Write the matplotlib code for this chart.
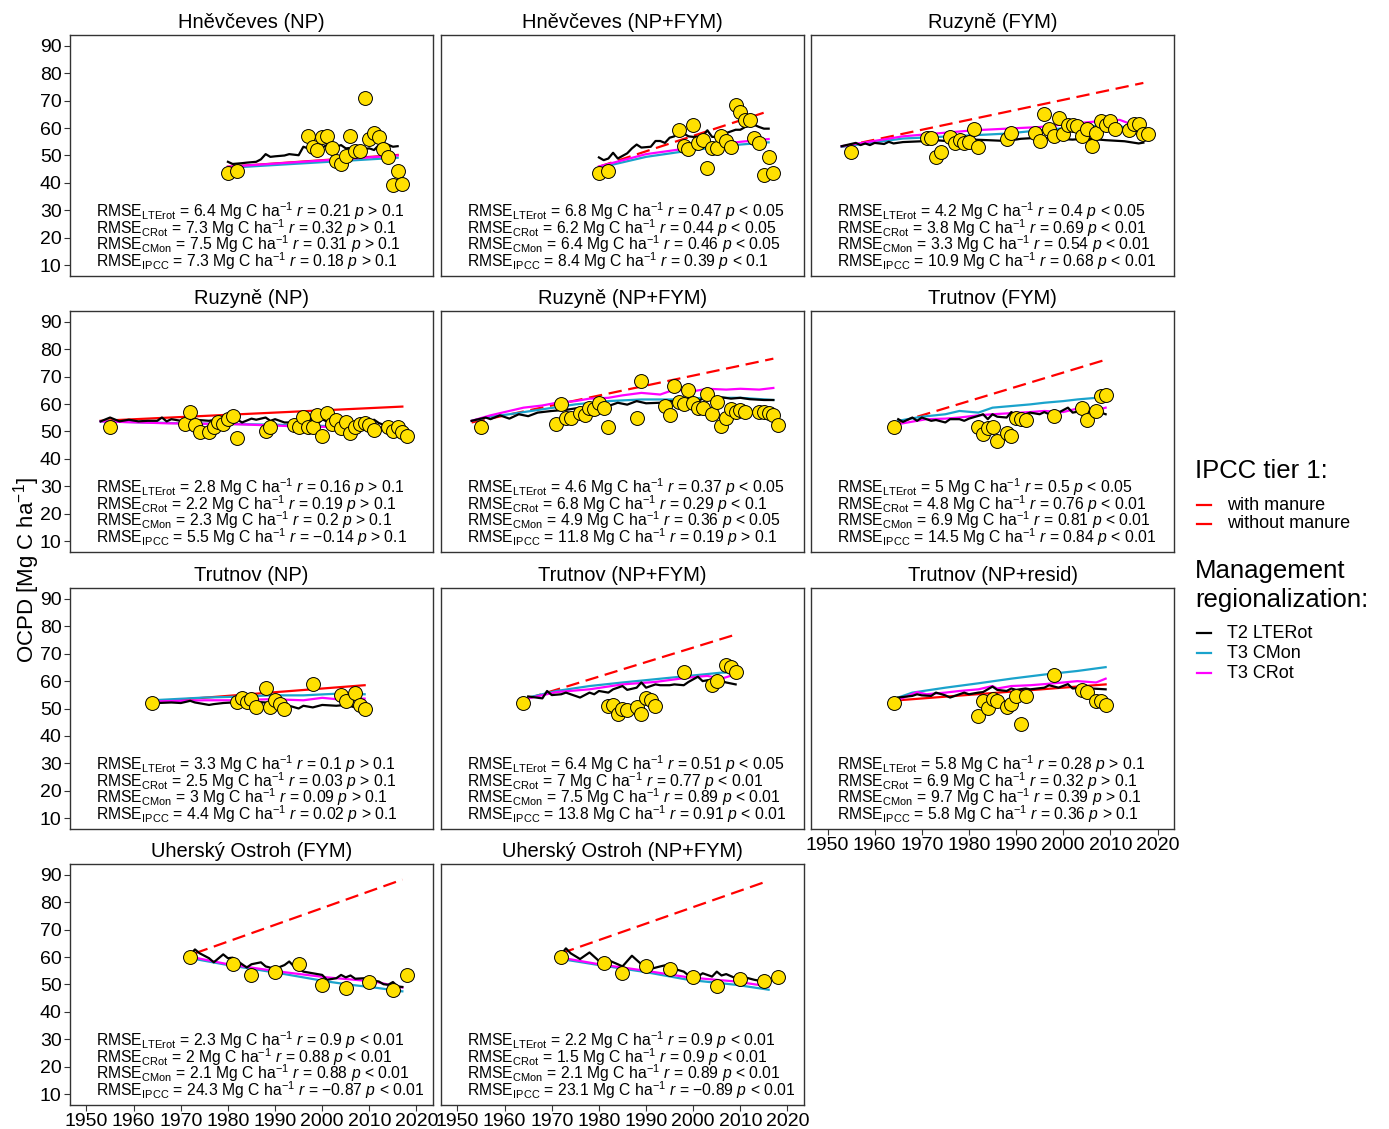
import matplotlib
matplotlib.use("Agg")
import matplotlib.pyplot as plt
from matplotlib.lines import Line2D

plt.rcParams["font.family"] = "Liberation Sans"
plt.rcParams["mathtext.fontset"] = "custom"
plt.rcParams["mathtext.rm"] = "Liberation Sans"
plt.rcParams["mathtext.it"] = "Liberation Sans:italic"
plt.rcParams["mathtext.bf"] = "Liberation Sans:bold"

W, H = 1389, 1129
RED = "#FF0000"
CYAN = "#1AA3CC"
MAGENTA = "#FF00FF"
YELLOW = "#FFE000"

# ---------------- observed years per site ----------------
hn_yr = [1980, 1982, 1997, 1998, 1999, 2000, 2001, 2002, 2003, 2004, 2005, 2006,
         2007, 2008, 2009, 2010, 2011, 2012, 2013, 2014, 2015, 2016, 2017]
ru_yr = [1955, 1971, 1972, 1973, 1974, 1976, 1977, 1978, 1979, 1980, 1981, 1982,
         1988, 1989, 1994, 1995, 1996, 1997, 1998, 1999, 2000, 2001, 2002, 2003,
         2004, 2005, 2006, 2007, 2008, 2009, 2010, 2011, 2014, 2015, 2016, 2017, 2018]
tr_yr = [1964, 1982, 1983, 1984, 1985, 1986, 1988, 1989, 1990, 1991, 1992, 1998,
         2004, 2005, 2007, 2008, 2009]
uo_yr = [1972, 1981, 1985, 1990, 1995, 2000, 2005, 2010, 2015, 2018]

# ---------------- Hněvčeves (NP) ----------------
hn_np_obs = [43.5, 44.3, 57.3, 53.2, 52.0, 56.8, 57.3, 52.9, 48.0, 46.9, 49.9, 57.0,
             51.7, 51.6, 70.9, 56.2, 58.2, 56.8, 52.4, 49.5, 39.3, 44.5, 39.5]
hn_np_lte_yr = [1980, 1981, 1983, 1984, 1986, 1987, 1988, 1989, 1990, 1992, 1993, 1995, 1996, 1997,
                1998, 2000, 2001, 2002, 2004, 2005, 2007, 2008, 2010, 2011, 2012, 2013, 2015, 2016]
hn_np_lte = [47.7, 46.9, 47.2, 47.4, 47.7, 48.6, 50.5, 49.5, 49.7, 50.0, 50.5, 50.1, 53.2, 52.6,
             53.8, 52.9, 53.8, 52.6, 53.8, 52.6, 52.9, 52.2, 52.6, 52.0, 53.8, 54.6, 53.2, 53.4]
hn_np_cmon_yr = [1980, 2016]
hn_np_cmon = [45.5, 49.2]
hn_np_crot_yr = [1980, 2016]
hn_np_crot = [45.9, 50.0]
hn_np_ipcc_yr = [1980, 2016]
hn_np_ipcc = [45.9, 50.2]
hn_np_rmse = ["6.4", "7.3", "7.5", "7.3"]
hn_np_r = ["0.21", "0.32", "0.31", "0.18"]
hn_np_p = ["> 0.1", "> 0.1", "> 0.1", "> 0.1"]

# ---------------- Hněvčeves (NP+FYM) ----------------
hn_npf_obs = [43.5, 44.3, 59.2, 53.5, 52.3, 61.0, 54.4, 55.6, 45.3, 52.6, 52.6, 57.0,
              55.2, 53.2, 68.6, 65.8, 62.8, 62.8, 56.5, 54.6, 42.7, 49.3, 43.5]
hn_npf_lte_yr = [1980, 1981, 1982, 1983, 1984, 1986, 1987, 1988, 1989, 1991, 1992, 1993, 1994, 1995,
                 1996, 1997, 1998, 1999, 2000, 2002, 2003, 2004, 2006, 2007, 2009, 2010, 2011, 2012,
                 2014, 2015, 2016]
hn_npf_lte = [49.3, 48.3, 48.9, 51.0, 48.9, 50.8, 52.6, 54.0, 52.9, 53.2, 55.3, 55.3, 54.6, 56.5,
              57.0, 59.8, 58.0, 57.0, 56.8, 57.0, 59.2, 56.8, 56.8, 58.2, 59.4, 59.4, 60.4, 61.9,
              60.4, 59.8, 59.8]
hn_npf_cmon_yr = [1980, 1990, 2000, 2010, 2016]
hn_npf_cmon = [45.5, 49.5, 52.0, 54.0, 54.8]
hn_npf_crot_yr = [1980, 1990, 2000, 2010, 2016]
hn_npf_crot = [46.0, 50.5, 52.9, 55.0, 56.0]
hn_npf_ipcc_yr = [1980, 2016]
hn_npf_ipcc = [45.9, 66.2]
hn_npf_rmse = ["6.8", "6.2", "6.4", "8.4"]
hn_npf_r = ["0.47", "0.44", "0.46", "0.39"]
hn_npf_p = ["< 0.05", "< 0.05", "< 0.05", "< 0.1"]

# ---------------- Ruzyně (FYM) ----------------
ru_fym_obs = [51.4, 56.5, 56.5, 49.3, 51.4, 56.8, 54.4, 55.8, 54.6, 55.0, 59.8, 53.2,
              56.2, 58.2, 58.2, 55.3, 65.0, 59.8, 57.0, 63.8, 58.0, 61.3, 61.3, 60.8,
              57.0, 59.7, 53.5, 58.3, 62.6, 61.0, 62.6, 59.7, 59.2, 61.6, 61.4, 58.0, 57.8]
ru_fym_lte_yr = [1953, 1954, 1956, 1957, 1958, 1959, 1960, 1962, 1963, 1964, 1966, 1970, 1973,
                 1977, 1981, 1984, 1988, 1991, 1995, 1998, 2002, 2005, 2009, 2013, 2016, 2017]
ru_fym_lte = [53.4, 53.8, 54.6, 53.8, 54.4, 53.8, 54.6, 54.2, 55.0, 54.4, 54.9, 55.2, 55.6,
              55.0, 55.8, 55.6, 55.3, 56.1, 56.5, 56.2, 55.8, 56.2, 55.6, 55.2, 54.4, 54.7]
ru_fym_cmon_yr = [1953, 1966, 1981, 1988, 1995, 2002, 2009, 2013, 2017]
ru_fym_cmon = [53.2, 56.2, 57.4, 58.0, 59.2, 60.2, 61.0, 60.4, 59.2]
ru_fym_crot_yr = [1953, 1966, 1981, 1995, 2000, 2008, 2012, 2016, 2017]
ru_fym_crot = [53.4, 57.0, 59.2, 60.4, 61.3, 62.6, 63.0, 60.4, 59.8]
ru_fym_ipcc_yr = [1953, 2017]
ru_fym_ipcc = [53.2, 76.5]
ru_fym_rmse = ["4.2", "3.8", "3.3", "10.9"]
ru_fym_r = ["0.4", "0.69", "0.54", "0.68"]
ru_fym_p = ["< 0.05", "< 0.01", "< 0.01", "< 0.01"]

# ---------------- Ruzyně (NP) ----------------
ru_np_obs = [51.5, 52.9, 57.1, 52.3, 49.7, 49.9, 51.8, 53.5, 52.9, 54.5, 55.7, 47.5,
             50.3, 51.8, 52.3, 51.5, 55.3, 51.8, 51.5, 56.0, 48.4, 56.6, 52.7, 54.2,
             51.1, 53.6, 49.4, 51.8, 52.7, 53.0, 52.3, 50.5, 51.7, 50.3, 51.5, 49.7, 48.2]
ru_np_lte_yr = [1953, 1955, 1957, 1959, 1961, 1963, 1965, 1966, 1967, 1968, 1970, 1973, 1976,
                1978, 1980, 1982, 1983, 1985, 1986, 1988, 1989, 1990, 1992, 1993, 1995, 1997,
                1999, 2000, 2002, 2003, 2005, 2008, 2010, 2011, 2012, 2014, 2016]
ru_np_lte = [53.7, 55.1, 53.7, 54.3, 53.7, 53.9, 53.9, 55.1, 53.7, 54.5, 53.9, 54.3, 53.9,
             54.5, 53.3, 54.3, 53.3, 54.7, 54.3, 55.1, 53.9, 54.5, 53.3, 53.3, 54.3, 55.1,
             52.7, 54.5, 52.7, 53.3, 53.3, 53.3, 53.3, 54.3, 53.1, 51.8, 51.8]
ru_np_cmon_yr = [1953, 1970, 1990, 2010, 2016]
ru_np_cmon = [53.7, 53.0, 52.5, 51.6, 51.0]
ru_np_crot_yr = [1953, 1967, 1981, 1996, 2010, 2016]
ru_np_crot = [53.7, 53.0, 52.7, 51.8, 51.5, 51.1]
ru_np_ipcc_yr = [1953, 2017]
ru_np_ipcc = [53.9, 59.1]
ru_np_rmse = ["2.8", "2.2", "2.3", "5.5"]
ru_np_r = ["0.16", "0.19", "0.2", "\u22120.14"]
ru_np_p = ["> 0.1", "> 0.1", "> 0.1", "> 0.1"]

# ---------------- Ruzyně (NP+FYM) ----------------
ru_npf_obs = [51.7, 52.9, 60.2, 55.1, 55.1, 56.7, 56.1, 58.7, 58.1, 60.3, 58.7, 51.8,
              54.9, 68.4, 59.3, 56.1, 66.6, 60.9, 59.9, 65.1, 60.3, 58.5, 58.7, 63.8,
              56.3, 60.9, 52.1, 54.9, 58.1, 57.1, 57.9, 57.3, 57.1, 57.1, 56.9, 56.2, 52.3]
ru_npf_lte_yr = [1953, 1956, 1957, 1959, 1961, 1963, 1965, 1967, 1970, 1973, 1976, 1979, 1982,
                 1984, 1986, 1988, 1990, 1993, 1995, 1997, 2000, 2001, 2003, 2004, 2006, 2008,
                 2010, 2012, 2015, 2017]
ru_npf_lte = [53.9, 55.1, 54.5, 55.9, 54.7, 56.3, 55.6, 56.9, 57.5, 57.9, 58.7, 58.4, 59.3,
              60.5, 59.8, 61.1, 60.3, 60.5, 61.1, 60.8, 62.0, 61.2, 62.7, 62.0, 62.5, 62.0,
              62.3, 61.8, 61.5, 61.5]
ru_npf_cmon_yr = [1953, 1957, 1961, 1968, 1975, 1982, 1989, 1996, 2003, 2010, 2017]
ru_npf_cmon = [53.9, 55.4, 56.3, 58.1, 59.9, 61.1, 61.7, 61.7, 62.3, 62.3, 61.5]
ru_npf_crot_yr = [1953, 1957, 1961, 1964, 1968, 1971, 1975, 1978, 1982, 1985, 1989, 1993,
                  1996, 2000, 2003, 2007, 2010, 2014, 2017]
ru_npf_crot = [53.9, 55.9, 57.5, 58.7, 59.5, 60.5, 61.1, 62.0, 62.3, 63.2, 64.1, 63.5,
               65.3, 64.7, 65.6, 65.3, 65.6, 65.3, 65.9]
ru_npf_ipcc_yr = [1953, 2017]
ru_npf_ipcc = [53.3, 76.6]
ru_npf_rmse = ["4.6", "6.8", "4.9", "11.8"]
ru_npf_r = ["0.37", "0.29", "0.36", "0.19"]
ru_npf_p = ["< 0.05", "< 0.1", "< 0.05", "> 0.1"]

# ---------------- Trutnov (FYM) ----------------
tr_fym_obs = [51.7, 51.8, 49.1, 51.1, 51.7, 46.6, 49.3, 48.2, 55.1, 54.7, 54.1, 55.7,
              58.4, 54.2, 57.5, 63.0, 63.3]
tr_fym_lte_yr = [1965, 1966, 1968, 1969, 1970, 1972, 1973, 1975, 1976, 1978, 1979, 1980, 1982,
                 1983, 1984, 1985, 1986, 1988, 1989, 1990, 1992, 1993, 1995, 1996, 1997, 1999,
                 2001, 2002, 2004, 2005, 2007, 2008, 2009]
tr_fym_lte = [54.5, 53.5, 55.1, 53.9, 55.1, 53.9, 54.2, 53.3, 54.5, 54.5, 53.9, 54.7, 55.7,
              56.3, 54.5, 56.3, 55.4, 55.1, 57.1, 55.9, 56.3, 56.9, 56.3, 57.1, 56.3, 56.9,
              58.7, 56.9, 57.5, 57.1, 57.5, 56.9, 56.3]
tr_fym_cmon_yr = [1965, 1970, 1975, 1978, 1982, 1985, 1989, 1993, 1996, 2000, 2003, 2007, 2009]
tr_fym_cmon = [53.9, 55.4, 56.3, 57.5, 56.9, 58.7, 59.3, 59.9, 60.5, 61.1, 61.7, 62.3, 62.7]
tr_fym_crot_yr = [1965, 1971, 1975, 1978, 1982, 1985, 1989, 1993, 1996, 2000, 2003, 2007, 2009]
tr_fym_crot = [52.7, 54.5, 54.7, 55.1, 55.9, 56.3, 56.7, 57.1, 57.5, 57.1, 58.4, 57.7, 58.7]
tr_fym_ipcc_yr = [1965, 2009]
tr_fym_ipcc = [53.3, 76.2]
tr_fym_rmse = ["5", "4.8", "6.9", "14.5"]
tr_fym_r = ["0.5", "0.76", "0.81", "0.84"]
tr_fym_p = ["< 0.05", "< 0.01", "< 0.01", "< 0.01"]

# ---------------- Trutnov (NP) ----------------
tr_np_obs = [52.0, 52.4, 54.0, 52.4, 53.4, 50.6, 57.4, 50.6, 53.0, 51.6, 49.8, 59.1,
             55.0, 52.6, 55.6, 51.3, 50.0]
tr_np_lte_yr = [1965, 1968, 1970, 1972, 1973, 1976, 1977, 1979, 1981, 1982, 1984, 1986, 1988,
                1990, 1993, 1995, 1996, 1998, 2000, 2003, 2005, 2007, 2009]
tr_np_lte = [52.0, 52.2, 52.0, 52.8, 52.2, 51.3, 51.6, 52.0, 52.2, 51.6, 52.2, 52.4, 52.2,
             51.6, 51.0, 50.0, 51.0, 50.4, 51.3, 51.0, 51.3, 50.4, 49.8]
tr_np_cmon_yr = [1965, 1975, 1982, 1989, 1996, 2003, 2009]
tr_np_cmon = [53.1, 54.0, 54.3, 54.8, 54.8, 55.4, 55.2]
tr_np_crot_yr = [1965, 1975, 1982, 1989, 1996, 2000, 2003, 2009]
tr_np_crot = [52.6, 53.0, 53.0, 53.4, 53.0, 53.9, 53.4, 53.6]
tr_np_ipcc_yr = [1965, 2009]
tr_np_ipcc = [52.6, 58.5]
tr_np_rmse = ["3.3", "2.5", "3", "4.4"]
tr_np_r = ["0.1", "0.03", "0.09", "0.02"]
tr_np_p = ["> 0.1", "> 0.1", "> 0.1", "> 0.1"]

# ---------------- Trutnov (NP+FYM) ----------------
tr_npf_obs = [52.0, 50.8, 51.2, 48.0, 49.8, 49.5, 50.6, 48.0, 53.7, 53.0, 50.8, 63.4,
              58.6, 60.0, 65.8, 65.2, 63.3]
tr_npf_lte_yr = [1965, 1968, 1969, 1970, 1972, 1973, 1975, 1976, 1978, 1979, 1980, 1982, 1983,
                 1985, 1986, 1988, 1989, 1990, 1992, 1993, 1995, 1996, 1998, 1999, 2001, 2002,
                 2005, 2006, 2007, 2009]
tr_npf_lte = [54.4, 53.7, 56.4, 54.9, 55.2, 55.8, 54.6, 54.0, 55.8, 55.2, 56.4, 55.8, 57.0,
              58.2, 56.8, 57.6, 59.5, 57.6, 58.8, 58.5, 58.5, 58.8, 58.5, 59.7, 61.6, 60.0,
              60.9, 60.0, 59.5, 58.8]
tr_npf_cmon_yr = [1965, 1971, 1978, 1985, 1992, 1999, 2006, 2009]
tr_npf_cmon = [54.0, 56.4, 58.2, 59.5, 60.7, 61.9, 63.1, 63.1]
tr_npf_crot_yr = [1965, 1971, 1978, 1985, 1992, 1999, 2003, 2006, 2009]
tr_npf_crot = [53.7, 56.0, 57.0, 58.8, 59.7, 61.3, 61.9, 60.9, 62.5]
tr_npf_ipcc_yr = [1965, 2009]
tr_npf_ipcc = [53.7, 77.0]
tr_npf_rmse = ["6.4", "7", "7.5", "13.8"]
tr_npf_r = ["0.51", "0.77", "0.89", "0.91"]
tr_npf_p = ["< 0.05", "< 0.01", "< 0.01", "< 0.01"]

# ---------------- Trutnov (NP+resid) ----------------
tr_npr_obs = [52.0, 47.1, 52.6, 50.1, 53.4, 52.6, 50.6, 51.6, 54.4, 44.3, 54.6, 62.1,
              56.8, 56.2, 52.6, 52.6, 51.3]
tr_npr_lte_yr = [1965, 1968, 1969, 1970, 1972, 1973, 1975, 1976, 1978, 1979, 1980, 1982, 1983,
                 1985, 1986, 1988, 1989, 1990, 1992, 1993, 1996, 1997, 1999, 2001, 2002, 2004,
                 2006, 2009]
tr_npr_lte = [54.0, 54.6, 55.2, 54.8, 54.6, 55.8, 54.8, 54.0, 55.2, 55.8, 55.2, 55.8, 56.0,
              58.0, 56.8, 56.4, 57.3, 56.8, 57.3, 57.0, 57.6, 58.5, 57.6, 58.9, 57.3, 57.6,
              57.3, 57.0]
tr_npr_cmon_yr = [1965, 1968, 1975, 1982, 1989, 1996, 2003, 2009]
tr_npr_cmon = [54.0, 55.8, 57.6, 59.2, 60.9, 62.4, 63.7, 65.1]
tr_npr_crot_yr = [1965, 1969, 1971, 1975, 1978, 1982, 1985, 1986, 1989, 1993, 1996, 2000,
                  2003, 2007, 2009]
tr_npr_crot = [53.1, 56.0, 55.2, 55.8, 56.4, 57.0, 58.2, 57.3, 58.2, 58.5, 58.9, 59.5,
               60.0, 59.5, 60.9]
tr_npr_ipcc_yr = [1965, 2009]
tr_npr_ipcc = [53.0, 58.8]
tr_npr_rmse = ["5.8", "6.9", "9.7", "5.8"]
tr_npr_r = ["0.28", "0.32", "0.39", "0.36"]
tr_npr_p = ["> 0.1", "> 0.1", "> 0.1", "> 0.1"]

# ---------------- Uherský Ostroh (FYM) ----------------
uo_fym_obs = [60.2, 57.5, 53.3, 54.7, 57.5, 49.9, 48.9, 50.9, 48.0, 53.5]
uo_fym_lte_yr = [1972, 1973, 1974, 1976, 1977, 1979, 1980, 1981, 1983, 1984, 1985, 1987, 1988,
                 1990, 1992, 1993, 1994, 1996, 1998, 2000, 2001, 2003, 2004, 2005, 2006, 2007,
                 2009, 2010, 2012, 2013, 2014, 2015, 2016, 2017]
uo_fym_lte = [60.8, 62.8, 61.4, 59.6, 58.1, 61.0, 59.6, 59.8, 57.4, 56.2, 57.4, 58.1, 56.6,
              55.7, 57.1, 58.4, 56.6, 54.7, 54.1, 53.5, 51.7, 52.3, 53.5, 52.6, 53.3, 52.1,
              52.3, 51.7, 51.1, 50.1, 49.9, 50.9, 49.3, 49.1]
uo_fym_cmon_yr = [1973, 1980, 1991, 2001, 2006, 2011, 2017]
uo_fym_cmon = [59.3, 57.1, 54.1, 51.1, 49.9, 48.9, 47.5]
uo_fym_crot_yr = [1973, 1980, 1991, 2001, 2011, 2017]
uo_fym_crot = [59.8, 57.4, 54.7, 52.6, 51.1, 48.9]
uo_fym_ipcc_yr = [1973, 2017]
uo_fym_ipcc = [61.4, 88.3]
uo_fym_rmse = ["2.3", "2", "2.1", "24.3"]
uo_fym_r = ["0.9", "0.88", "0.88", "\u22120.87"]
uo_fym_p = ["< 0.01", "< 0.01", "< 0.01", "< 0.01"]

# ---------------- Uherský Ostroh (NP+FYM) ----------------
uo_npf_obs = [60.2, 57.8, 54.1, 56.8, 55.6, 52.6, 49.3, 52.1, 51.1, 52.9]
uo_npf_lte_yr = [1972, 1973, 1974, 1976, 1978, 1980, 1981, 1984, 1985, 1987, 1989, 1991, 1993,
                 1995, 1996, 1998, 1999, 2001, 2002, 2004, 2005, 2006, 2007, 2009, 2011, 2013,
                 2015, 2016]
uo_npf_lte = [61.0, 63.2, 61.4, 59.3, 61.7, 58.6, 59.6, 57.4, 56.6, 60.5, 57.4, 55.7, 56.6,
              57.4, 55.7, 54.7, 53.3, 52.9, 54.1, 52.9, 54.7, 53.3, 53.8, 52.3, 52.6, 51.7,
              51.1, 50.5]
uo_npf_cmon_yr = [1972, 1980, 1990, 1999, 2009, 2016]
uo_npf_cmon = [59.3, 57.1, 54.5, 51.7, 49.9, 48.1]
uo_npf_crot_yr = [1972, 1980, 1990, 1999, 2009, 2016]
uo_npf_crot = [59.8, 57.4, 55.0, 52.6, 51.1, 49.3]
uo_npf_ipcc_yr = [1972, 2016]
uo_npf_ipcc = [61.4, 87.9]
uo_npf_rmse = ["2.2", "1.5", "2.1", "23.1"]
uo_npf_r = ["0.9", "0.9", "0.89", "\u22120.89"]
uo_npf_p = ["< 0.01", "< 0.01", "< 0.01", "< 0.01"]

model_subs = ["LTErot", "CRot", "CMon", "IPCC"]

# title, obs years, obs, lte, cmon, crot, ipcc, manure, rmse, r, p
panels = [
    ("Hněvčeves (NP)", hn_yr, hn_np_obs, (hn_np_lte_yr, hn_np_lte), (hn_np_cmon_yr, hn_np_cmon),
     (hn_np_crot_yr, hn_np_crot), (hn_np_ipcc_yr, hn_np_ipcc), False, hn_np_rmse, hn_np_r, hn_np_p),
    ("Hněvčeves (NP+FYM)", hn_yr, hn_npf_obs, (hn_npf_lte_yr, hn_npf_lte), (hn_npf_cmon_yr, hn_npf_cmon),
     (hn_npf_crot_yr, hn_npf_crot), (hn_npf_ipcc_yr, hn_npf_ipcc), True, hn_npf_rmse, hn_npf_r, hn_npf_p),
    ("Ruzyně (FYM)", ru_yr, ru_fym_obs, (ru_fym_lte_yr, ru_fym_lte), (ru_fym_cmon_yr, ru_fym_cmon),
     (ru_fym_crot_yr, ru_fym_crot), (ru_fym_ipcc_yr, ru_fym_ipcc), True, ru_fym_rmse, ru_fym_r, ru_fym_p),
    ("Ruzyně (NP)", ru_yr, ru_np_obs, (ru_np_lte_yr, ru_np_lte), (ru_np_cmon_yr, ru_np_cmon),
     (ru_np_crot_yr, ru_np_crot), (ru_np_ipcc_yr, ru_np_ipcc), False, ru_np_rmse, ru_np_r, ru_np_p),
    ("Ruzyně (NP+FYM)", ru_yr, ru_npf_obs, (ru_npf_lte_yr, ru_npf_lte), (ru_npf_cmon_yr, ru_npf_cmon),
     (ru_npf_crot_yr, ru_npf_crot), (ru_npf_ipcc_yr, ru_npf_ipcc), True, ru_npf_rmse, ru_npf_r, ru_npf_p),
    ("Trutnov (FYM)", tr_yr, tr_fym_obs, (tr_fym_lte_yr, tr_fym_lte), (tr_fym_cmon_yr, tr_fym_cmon),
     (tr_fym_crot_yr, tr_fym_crot), (tr_fym_ipcc_yr, tr_fym_ipcc), True, tr_fym_rmse, tr_fym_r, tr_fym_p),
    ("Trutnov (NP)", tr_yr, tr_np_obs, (tr_np_lte_yr, tr_np_lte), (tr_np_cmon_yr, tr_np_cmon),
     (tr_np_crot_yr, tr_np_crot), (tr_np_ipcc_yr, tr_np_ipcc), False, tr_np_rmse, tr_np_r, tr_np_p),
    ("Trutnov (NP+FYM)", tr_yr, tr_npf_obs, (tr_npf_lte_yr, tr_npf_lte), (tr_npf_cmon_yr, tr_npf_cmon),
     (tr_npf_crot_yr, tr_npf_crot), (tr_npf_ipcc_yr, tr_npf_ipcc), True, tr_npf_rmse, tr_npf_r, tr_npf_p),
    ("Trutnov (NP+resid)", tr_yr, tr_npr_obs, (tr_npr_lte_yr, tr_npr_lte), (tr_npr_cmon_yr, tr_npr_cmon),
     (tr_npr_crot_yr, tr_npr_crot), (tr_npr_ipcc_yr, tr_npr_ipcc), False, tr_npr_rmse, tr_npr_r, tr_npr_p),
    ("Uherský Ostroh (FYM)", uo_yr, uo_fym_obs, (uo_fym_lte_yr, uo_fym_lte), (uo_fym_cmon_yr, uo_fym_cmon),
     (uo_fym_crot_yr, uo_fym_crot), (uo_fym_ipcc_yr, uo_fym_ipcc), True, uo_fym_rmse, uo_fym_r, uo_fym_p),
    ("Uherský Ostroh (NP+FYM)", uo_yr, uo_npf_obs, (uo_npf_lte_yr, uo_npf_lte), (uo_npf_cmon_yr, uo_npf_cmon),
     (uo_npf_crot_yr, uo_npf_crot), (uo_npf_ipcc_yr, uo_npf_ipcc), True, uo_npf_rmse, uo_npf_r, uo_npf_p),
]

col_left = [70, 441, 811]
row_top = [35, 311, 588, 864]
pw, ph = 363, 241
text_y = [27.6, 21.5, 15.4, 9.3]

fig = plt.figure(figsize=(W / 100, H / 100), dpi=100)

for i, (title, oyr, obs, lte, cmon, crot, ipcc, manure, rmse, rr, pp) in enumerate(panels):
    row, col = divmod(i, 3)
    ax = fig.add_axes([col_left[col] / W, 1 - (row_top[row] + ph) / H, pw / W, ph / H])
    ls = (0, (6, 3)) if manure else "-"
    ax.plot(ipcc[0], ipcc[1], color=RED, lw=1.6, ls=ls, zorder=2)
    ax.plot(cmon[0], cmon[1], color=CYAN, lw=1.6, zorder=3)
    ax.plot(crot[0], crot[1], color=MAGENTA, lw=1.6, zorder=3)
    ax.plot(lte[0], lte[1], color="black", lw=1.6, zorder=4)
    ax.scatter(oyr, obs, s=100, c=YELLOW, edgecolors="black", linewidths=0.7, zorder=5)

    for k in range(4):
        s = (r"RMSE$_{\mathrm{%s}}$ = %s Mg C ha$^{-1}$ $r$ = %s $p$ %s"
             % (model_subs[k], rmse[k], rr[k], pp[k]))
        ax.text(1952, text_y[k], s, fontsize=11.3, ha="left", va="baseline")

    ax.set_xlim(1946.5, 2023.5)
    ax.set_ylim(6, 94)
    ax.set_title(title, fontsize=14.5, pad=5)
    for sp in ax.spines.values():
        sp.set_color("#333333")
        sp.set_linewidth(1.0)

    ax.set_yticks(range(10, 91, 10))
    ax.set_xticks(range(1950, 2021, 10))
    show_x = row == 3 or (row == 2 and col == 2)
    show_y = col == 0
    ax.tick_params(axis="both", direction="out", length=4, width=0.8, color="#333333",
                   labelsize=14, pad=2)
    ax.tick_params(axis="x", bottom=show_x, labelbottom=show_x)
    ax.tick_params(axis="y", left=show_y, labelleft=show_y)

fig.text(27 / W, 1 - 570 / H, "OCPD [Mg C ha$^{-1}$]", rotation=90,
         ha="center", va="center", fontsize=16)

# legend
def fx(px):
    return px / W

def fy(py):
    return 1 - py / H

fig.text(fx(1195), fy(471), "IPCC tier 1:", fontsize=18.5, ha="left", va="center")
fig.text(fx(1195), fy(571), "Management", fontsize=18.5, ha="left", va="center")
fig.text(fx(1195), fy(600), "regionalization:", fontsize=18.5, ha="left", va="center")

legend_items = [(505, RED, "with manure"), (524, RED, "without manure"),
                (633, "black", "T2 LTERot"), (653, CYAN, "T3 CMon"), (673, MAGENTA, "T3 CRot")]
for py, c, lab in legend_items:
    fig.add_artist(Line2D([fx(1197), fx(1211)], [fy(py), fy(py)], color=c, lw=1.6))
    fig.text(fx(1227), fy(py), lab, fontsize=13, ha="left", va="center")

fig.savefig("out.png", dpi=100)
